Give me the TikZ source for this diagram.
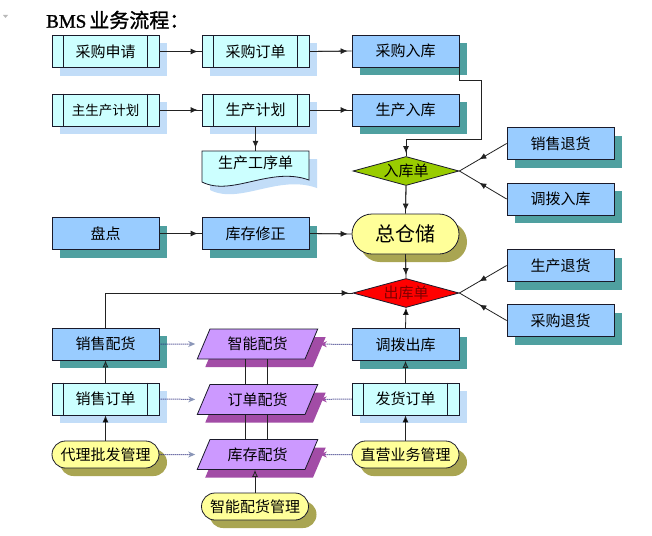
\documentclass[tikz,border=0pt]{standalone}
\usepackage{fontspec}
\setmainfont{Noto Sans CJK SC}
\newfontfamily\titleserif[FakeBold=1.3]{Liberation Serif}
\newfontfamily\titlecjk[FakeBold=1.3]{Noto Sans CJK SC}
\usetikzlibrary{shapes.geometric,shapes.misc,shadows,arrows.meta,decorations.markings}
\definecolor{cyanfill}{HTML}{CCFFFF}
\definecolor{cyanshadow}{HTML}{C2DDF8}
\definecolor{bluefill}{HTML}{99CCFF}
\definecolor{tealshadow}{HTML}{4FA0A0}
\definecolor{yellowfill}{HTML}{FFFF99}
\definecolor{oliveshadow}{HTML}{A9A552}
\definecolor{purplefill}{HTML}{CC99FF}
\definecolor{purpleshadow}{HTML}{A24CA6}
\definecolor{greenfill}{HTML}{99CC00}
\definecolor{redfill}{HTML}{FF0000}
\definecolor{darkred}{HTML}{800000}
\definecolor{linec}{HTML}{222222}
\definecolor{outline}{HTML}{1A1A2A}
\definecolor{navydot}{HTML}{25257A}
\definecolor{tipblue}{HTML}{8A96B8}
\definecolor{tipteal}{HTML}{1F6A6A}
\begin{document}
\begin{tikzpicture}[x=1pt,y=-1pt,
  lbl/.style={font=\fontsize{15}{17}\selectfont, text=black},
  basebox/.style={lbl, rectangle, draw=outline, line width=0.8pt, minimum width=107pt, minimum height=32pt, inner sep=0pt},
  procbox/.style={basebox, fill=cyanfill, general shadow={fill=cyanshadow, shadow xshift=8pt, shadow yshift=-8pt}},
  bluebox/.style={basebox, fill=bluefill, general shadow={fill=tealshadow, shadow xshift=8pt, shadow yshift=-8pt}},
  stadium/.style={lbl, rounded rectangle, draw=outline, line width=0.8pt, fill=yellowfill, minimum width=107pt, minimum height=27pt, inner sep=0pt, general shadow={fill=oliveshadow, shadow xshift=8pt, shadow yshift=-8pt}},
  para/.style={lbl, trapezium, trapezium left angle=60, trapezium right angle=120, trapezium stretches=true, draw=outline, line width=0.8pt, fill=purplefill, minimum width=121pt, minimum height=30pt, inner sep=0pt, general shadow={fill=purpleshadow, shadow xshift=8pt, shadow yshift=-8pt}},
  dia/.style={lbl, diamond, draw=outline, line width=0.8pt, aspect=3.6, minimum width=106pt, minimum height=29pt, inner sep=0pt},
  barline/.style={draw=outline, line width=0.8pt},
  conn/.style={draw=linec, line width=0.8pt},
  garr/.style={postaction={draw=linec, line width=0.8pt, -{Latex[length=7pt,width=6pt]}, shorten >=#1}},
  garr/.default=4pt,
  midarr/.style={postaction={decorate, decoration={markings, mark=at position 0.58 with {\arrow{Latex[length=7pt,width=6pt]}}}}},
  uparr/.style={-{Latex[length=7pt,width=6pt,fill=#1]}},
  uparr/.default=black,
  dotarr/.style={draw=navydot, densely dotted, line width=1pt, shorten >=8pt, -{Stealth[length=7pt,width=6pt,color=#1,fill=#1]}}
]
\useasboundingbox (0,0) rectangle (652,535);
\fill[white] (0,0) rectangle (652,535);

% small mark and title
\fill[gray!55] (3,15) -- (8,15) -- (5.5,18) -- cycle;
\node[anchor=west, inner sep=0pt] (title) at (46,20) {{\titleserif\fontsize{19}{22}\selectfont BMS}\hspace{3pt}{\titlecjk\fontsize{20}{22}\selectfont 业务流程：}};

% row 1
\node[procbox] (cgsq) at (105.5,51.5) {采购申请};
\node[procbox] (cgdd) at (255.5,51.5) {采购订单};
\node[bluebox] (cgrk) at (405.5,51) {采购入库};
% row 2
\node[procbox, font=\fontsize{13.5}{15}\selectfont] (zsc) at (105.5,110) {主生产计划};
\node[procbox] (scjh) at (255.5,110) {生产计划};
\node[bluebox] (scrk) at (405.5,110) {生产入库};

% document shape
\fill[cyanshadow] (210,159) -- (317,159) -- (317,188) .. controls (278,174) and (240,205) .. (210,190) -- cycle;
\filldraw[fill=cyanfill, draw=outline, line width=0.8pt] (202,151) -- (309,151) -- (309,180) .. controls (270,166) and (232,197) .. (202,182) -- cycle;
\node[lbl, minimum width=107pt, minimum height=24pt, inner sep=0pt] (scgx) at (255.5,163) {生产工序单};

% diamonds and storage
\node[dia, fill=greenfill] (rkd) at (406,171) {入库单};
\node[stadium, minimum height=40pt, font=\fontsize{20}{22}\selectfont] (zcc) at (405.5,234) {总仓储};
\node[dia, fill=redfill, text=darkred] (ckd) at (406,293) {出库单};

% right column
\node[bluebox] (xsth) at (560.5,143.5) {销售退货};
\node[bluebox] (dbrk) at (560.5,199) {调拨入库};
\node[bluebox] (scth) at (560.5,265.5) {生产退货};
\node[bluebox] (cgth) at (560.5,320.5) {采购退货};

% row 3
\node[bluebox] (pd) at (105.5,233.5) {盘点};
\node[bluebox] (kcxz) at (255.5,233.5) {库存修正};

% bottom left column
\node[bluebox] (xsph) at (105.5,344) {销售配货};
\node[procbox] (xsdd) at (105.5,399) {销售订单};
\node[stadium] (dlpf) at (105.5,454.5) {代理批发管理};

% bottom middle
\node[para] (znph) at (257.5,344) {智能配货};
\node[para] (ddph) at (257.5,399.5) {订单配货};
\node[para] (kcph) at (257.5,454.5) {库存配货};
\node[stadium] (znphgl) at (255,506.5) {智能配货管理};

% bottom right column
\node[bluebox] (dbck) at (405.5,344.5) {调拨出库};
\node[procbox] (fhdd) at (405.5,399) {发货订单};
\node[stadium] (zyyw) at (405.5,454.5) {直营业务管理};

% bars of the process boxes
\foreach \n in {cgsq,cgdd,zsc,scjh,xsdd,fhdd}{
  \draw[barline] ([xshift=12pt]\n.north west) -- ([xshift=12pt]\n.south west);
  \draw[barline] ([xshift=-12pt]\n.north east) -- ([xshift=-12pt]\n.south east);
}

% connectors
\draw[conn, garr] (cgsq.east) -- (cgdd.west);
\draw[conn, garr] (cgdd.east) -- (cgrk.west);
\draw[conn, garr] (zsc.east) -- (scjh.west);
\draw[conn, garr] (scjh.east) -- (scrk.west);
\draw[conn, garr=3pt] (scjh.south) -- (scgx.north);
\coordinate (b1) at (481,80);
\coordinate (b2) at (481,139);
\draw[conn, garr=3pt] ([xshift=-0.5pt]cgrk.south east) |- (b1) -- (b2) -| (rkd.north);
\draw[conn, midarr] (xsth.west) -- (rkd.east);
\draw[conn, midarr] (dbrk.west) -- (rkd.east);
\draw[conn, garr] (pd.east) -- (kcxz.west);
\draw[conn, garr] (kcxz.east) -- (zcc.west);
\draw[conn, garr=3pt] (rkd.south) -- (zcc.north);
\draw[conn, garr=3pt] (zcc.south) -- (ckd.north);
\draw[conn, midarr] (scth.west) -- (ckd.east);
\draw[conn, midarr] (cgth.west) -- (ckd.east);
\draw[conn, garr] (xsph.north) |- (ckd.west);
\draw[conn, uparr] (dbck.north) -- (ckd.south);
\draw[conn, uparr=tipteal] (xsdd.north) -- (xsph.south);
\draw[conn, uparr] (dlpf.north) -- (xsdd.south);
\draw[conn, uparr=tipteal] (fhdd.north) -- (dbck.south);
\draw[conn, uparr] (zyyw.north) -- (fhdd.south);
\draw[conn, uparr=purpleshadow] (znphgl.north) -- (znphgl.north |- kcph.south);
\foreach \a/\b in {znph/ddph, ddph/kcph}{
  \draw[conn] ([xshift=-12pt]\a.center |- \a.south) -- ([xshift=-12pt]\b.center |- \b.north);
  \draw[conn] ([xshift=10pt]\a.center |- \a.south) -- ([xshift=10pt]\b.center |- \b.north);
}
\draw[dotarr=tipblue] (xsph.east) -- (znph.west);
\draw[dotarr=tipblue] (xsdd.east) -- (ddph.west);
\draw[dotarr=tipblue] (dlpf.east) -- (kcph.west);
\draw[dotarr=purpleshadow] (dbck.west) -- (znph.east);
\draw[dotarr=purpleshadow] (fhdd.west) -- (ddph.east);
\draw[dotarr=purpleshadow] (zyyw.west) -- (kcph.east);
\end{tikzpicture}
\end{document}
